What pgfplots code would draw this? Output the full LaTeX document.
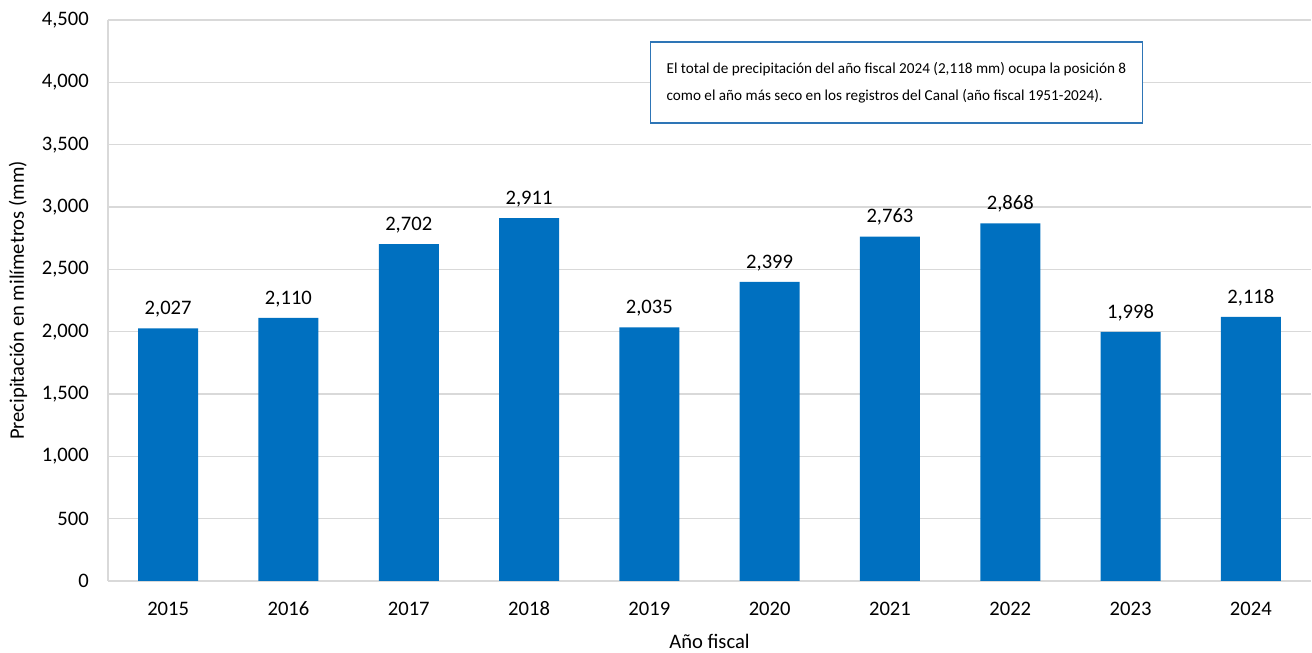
\documentclass[border=0pt]{standalone}
\usepackage{pgfplots}
\pgfplotsset{compat=1.18}
\usepackage{fontspec}
\setmainfont{Carlito}
\definecolor{barblue}{HTML}{0070C0}
\definecolor{gridgray}{HTML}{D9D9D9}
\definecolor{boxblue}{HTML}{2E75B6}
\begin{document}
\fontsize{10.3pt}{12pt}\selectfont
\begin{tikzpicture}
\useasboundingbox (-54pt,-36pt) rectangle (602pt,290.5pt);
\begin{axis}[
  at={(0,0)}, anchor=south west,
  scale only axis,
  width=601.5pt, height=280.5pt,
  ymin=0, ymax=4500,
  xmin=-0.5, xmax=9.5,
  ytick={0,500,...,4500},
  xtick={0,...,9},
  xticklabels={2015,2016,2017,2018,2019,2020,2021,2022,2023,2024},
  axis x line=bottom, axis y line=left,
  axis line style={gridgray, line width=0.8pt, -},
  ymajorgrids, grid style={gridgray, line width=0.8pt},
  major tick length=0pt,
  tick label style={font=\fontsize{10.3pt}{12pt}\selectfont},
  /pgf/number format/assume math mode=true,
  /pgf/number format/1000 sep={,},
  yticklabel style={xshift=-6pt},
  xticklabel style={anchor=base, yshift=-17pt},
  xlabel={Año fiscal},
  ylabel={Precipitación en milímetros (mm)},
  label style={font=\fontsize{10.3pt}{12pt}\selectfont},
  xlabel style={at={(axis description cs:0.5,-0.107)}, anchor=center},
  ylabel style={at={(axis description cs:-0.0748,0.5)}, anchor=center},
  ybar, bar width=30pt,
  nodes near coords,
  every node near coord/.append style={font=\fontsize{10.3pt}{12pt}\selectfont, yshift=2pt},
  clip=false,
]
\addplot[fill=barblue, draw=none] coordinates {
  (0,2027) (1,2110) (2,2702) (3,2911) (4,2035)
  (5,2399) (6,2763) (7,2868) (8,1998) (9,2118)
};
\node[draw=boxblue, line width=0.8pt, fill=white, anchor=center,
  minimum width=245.5pt, minimum height=40.5pt,
  inner xsep=8pt, align=left,
  font=\fontsize{7.6pt}{13.5pt}\selectfont]
  at (axis cs:6.054,3999)
  {El total de precipitación del año fiscal 2024 (2,118 mm) ocupa la posición 8\\como el año más seco en los registros del Canal (año fiscal 1951-2024).};
\end{axis}
\end{tikzpicture}
\end{document}
